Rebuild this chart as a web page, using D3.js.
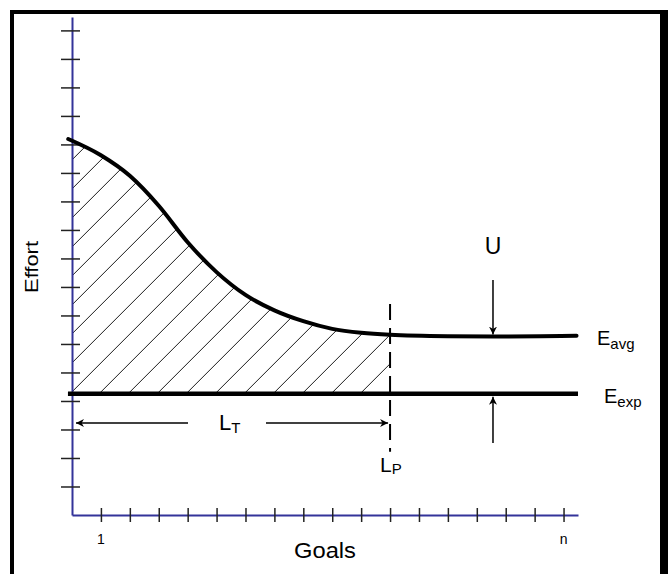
<!DOCTYPE html>
<html><head><meta charset="utf-8">
<script src="https://cdn.jsdelivr.net/npm/d3@7"></script>
<style>
body{margin:0;background:#fff;}
text{font-family:"Liberation Sans",Arial,Helvetica,sans-serif;fill:#000;}
</style>
</head><body>
<svg id="chart" width="668" height="574"></svg>
<script>
// ---- data (goal index, effort units) ----
const goalPos   = [-0.13, 1, 2, 3, 4, 5, 6, 7, 8, 9, 10, 11, 13, 14.6, 16.2, 17.45];
const effortAvg = [13.19, 12.62, 11.9, 10.85, 9.57, 8.52, 7.72, 7.18, 6.80, 6.53, 6.39, 6.32, 6.27, 6.26, 6.27, 6.29];
const effortExp = 4.25;
const expStart = -0.14, expEnd = 17.5;
const xTicks = d3.range(1, 18);
const yTicks = d3.range(1, 18);
const xTickLabels = [{v: 1, t: "1"}, {v: 17, t: "n"}];
const lP = 11.0;        // L_P position
const uPos = 14.56;     // U arrow position

const svg = d3.select("#chart");
const x = d3.scaleLinear().domain([0, 17.5]).range([72, 578]);
const y = d3.scaleLinear().domain([0, 17.47]).range([515, 17]);

// frame
svg.append("line").attr("x1",12).attr("x2",12).attr("y1",10).attr("y2",574).attr("stroke","#000").attr("stroke-width",4);
svg.append("line").attr("x1",10).attr("x2",668).attr("y1",12).attr("y2",12).attr("stroke","#000").attr("stroke-width",4);
svg.append("line").attr("x1",664).attr("x2",664).attr("y1",10).attr("y2",574).attr("stroke","#000").attr("stroke-width",8);

const pts = goalPos.map((g,i)=>({g, e: effortAvg[i]}));
const curveType = d3.curveMonotoneX;

// hatch region
const defs = svg.append("defs");
defs.append("clipPath").attr("id","clipArea").append("path")
  .attr("d", d3.area().x(d=>x(d.g)).y0(y(effortExp)).y1(d=>y(d.e)).curve(curveType)(pts));
defs.append("clipPath").attr("id","clipRect").append("rect")
  .attr("x", x(0)).attr("y", 0).attr("width", x(lP)-x(0)).attr("height", y(effortExp));
const hatchOuter = svg.append("g").attr("clip-path","url(#clipRect)");
const hatch = hatchOuter.append("g").attr("clip-path","url(#clipArea)");
const y0 = y(effortExp);
const K0 = 215 + y0;
const ks = d3.range(-8, 16).map(k => K0 - 29*k);
hatch.selectAll("line").data(ks).join("line")
  .attr("x1", K => K - y0).attr("y1", y0)
  .attr("x2", K => K - 100).attr("y2", 100)
  .attr("stroke","#1a1a1a").attr("stroke-width",1);

// axes
const gx = svg.append("g").attr("transform",`translate(0,${y(0)})`)
  .call(d3.axisBottom(x).tickValues(xTicks).tickSizeOuter(0).tickFormat(""));
gx.selectAll(".tick line").attr("y1",-7).attr("y2",7).attr("stroke","#222").attr("stroke-width",1.5);
gx.select(".domain").attr("stroke","#333399").attr("stroke-width",2);

const gy = svg.append("g").attr("transform",`translate(${x(0)},0)`)
  .call(d3.axisLeft(y).tickValues(yTicks).tickSizeOuter(0).tickFormat(""));
gy.selectAll(".tick line").attr("x1",-11).attr("x2",8).attr("stroke","#222").attr("stroke-width",1.5);
gy.select(".domain").attr("stroke","#333399").attr("stroke-width",2);

svg.selectAll(".xl").data(xTickLabels).join("text").attr("class","xl")
  .attr("x", d=>x(d.v)).attr("y", 544).attr("text-anchor","middle")
  .attr("font-size",14).text(d=>d.t);

// E_exp line
svg.append("line").attr("x1",x(expStart)).attr("x2",x(expEnd))
  .attr("y1",y(effortExp)).attr("y2",y(effortExp)).attr("stroke","#000").attr("stroke-width",4.5);

// E_avg curve
svg.append("path").datum(pts)
  .attr("d", d3.line().x(d=>x(d.g)).y(d=>y(d.e)).curve(curveType))
  .attr("fill","none").attr("stroke","#000").attr("stroke-width",4).attr("stroke-linecap","round");

// L_P dashed line
svg.append("line").attr("x1",x(lP)).attr("x2",x(lP)).attr("y1",y(7.4)).attr("y2",y(2.22))
  .attr("stroke","#000").attr("stroke-width",2).attr("stroke-dasharray","16,8");

// arrow marker
defs.append("marker").attr("id","arr").attr("viewBox","0 0 10 10").attr("refX",10).attr("refY",5)
  .attr("markerWidth",8).attr("markerHeight",8).attr("markerUnits","userSpaceOnUse").attr("orient","auto")
  .append("path").attr("d","M0,0L10,5L0,10L3,5Z").attr("fill","#000");

function arrow(x1,y1,x2,y2){
  svg.append("line").attr("x1",x1).attr("y1",y1).attr("x2",x2).attr("y2",y2)
    .attr("stroke","#000").attr("stroke-width",1.5).attr("marker-end","url(#arr)");
}
const yAvgU = y(6.26);
arrow(x(uPos), 280, x(uPos), yAvgU - 2);
arrow(x(uPos), 443, x(uPos), y(effortExp) + 3);
arrow(188, 423, x(0) + 4, 423);
arrow(266, 423, x(lP) - 2, 423);

// labels
function sublabel(xp, yp, main, sub, fs, sfs, dy, anchor){
  const t = svg.append("text").attr("x",xp).attr("y",yp).attr("font-size",fs).attr("text-anchor",anchor||"start");
  t.append("tspan").text(main);
  t.append("tspan").attr("font-size",sfs).attr("dy",dy).text(sub);
  return t;
}
svg.append("text").attr("x",x(uPos)).attr("y",254).attr("text-anchor","middle").attr("font-size",23).text("U");
sublabel(597, 345, "E", "avg", 20, 15, 4);
sublabel(604, 403, "E", "exp", 20, 15, 4);
sublabel(219, 430, "L", "T", 22, 15, 3);
sublabel(380, 472, "L", "P", 21, 15, 2);

svg.append("text").attr("x",325).attr("y",558).attr("text-anchor","middle").attr("font-size",22)
  .attr("textLength",62).attr("lengthAdjust","spacingAndGlyphs").text("Goals");
svg.append("text").attr("transform","translate(38,267) rotate(-90)").attr("text-anchor","middle")
  .attr("font-size",18).attr("textLength",52).attr("lengthAdjust","spacingAndGlyphs").text("Effort");
</script>
</body></html>
